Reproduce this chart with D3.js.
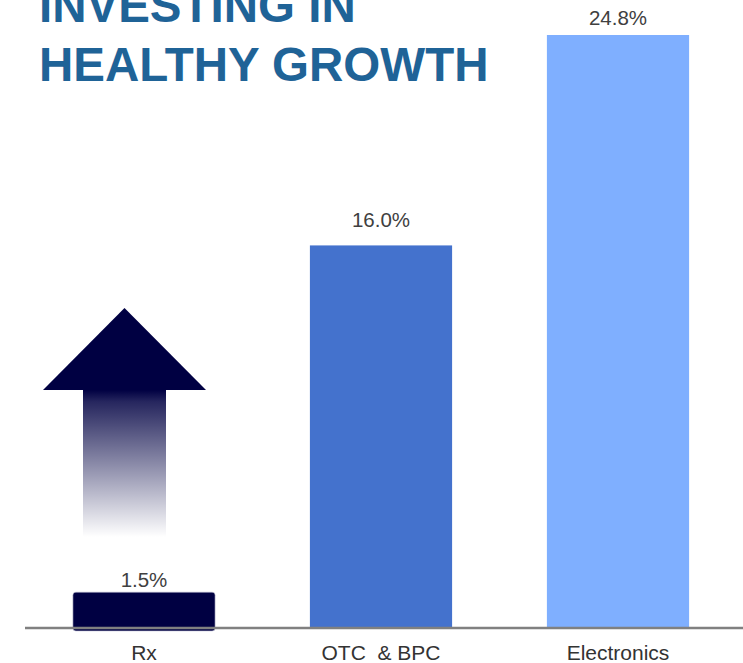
<!DOCTYPE html>
<html>
<head>
<meta charset="utf-8">
<script src="https://cdn.jsdelivr.net/npm/d3@7"></script>
<style>
  html, body { margin: 0; padding: 0; background: #ffffff; }
  svg { display: block; }
</style>
</head>
<body>
<svg id="chart" width="743" height="663"></svg>
<script>
// Growth by business segment (%)
const categories = ["Rx", "OTC  & BPC", "Electronics"];
const values = [1.5, 16.0, 24.8];
const valueLabels = ["1.5%", "16.0%", "24.8%"];
const barColors = ["#000042", "#4472cd", "#7fafff"];
const titleLines = ["INVESTING IN", "HEALTHY GROWTH"];

const width = 743, height = 663;
const baseY = 628;
const svg = d3.select("#chart");

const x = d3.scaleBand()
  .domain(categories)
  .range([25.5, 736.5])
  .paddingInner(0.4)
  .paddingOuter(0.2);

const y = d3.scaleLinear()
  .domain([0, 24.8])
  .range([baseY, 35]);

// Gradient for the upward arrow shaft
const defs = svg.append("defs");
const grad = defs.append("linearGradient")
  .attr("id", "shaftFade")
  .attr("x1", 0).attr("y1", 0).attr("x2", 0).attr("y2", 1);
grad.append("stop").attr("offset", "0%").attr("stop-color", "#000042").attr("stop-opacity", 1);
grad.append("stop").attr("offset", "8%").attr("stop-color", "#000042").attr("stop-opacity", 0.85);
grad.append("stop").attr("offset", "100%").attr("stop-color", "#000042").attr("stop-opacity", 0);

// Title
const title = svg.append("g").attr("class", "title");
title.selectAll("text")
  .data(titleLines)
  .join("text")
  .attr("x", 39)
  .attr("y", (d, i) => 22 + i * 59)
  .attr("font-family", "'Liberation Sans', Arial, sans-serif")
  .attr("font-weight", "bold")
  .attr("font-size", 47.5)
  .attr("fill", "#1f6397")
  .text(d => d);

// Upward arrow beside the Rx bar
const arrow = svg.append("g").attr("class", "arrow");
const ax = 124.5;
arrow.append("rect")
  .attr("x", 83).attr("y", 390)
  .attr("width", 83).attr("height", 147)
  .attr("fill", "url(#shaftFade)");
arrow.append("path")
  .attr("d", `M${ax},308 L206,390 L43,390 Z`)
  .attr("fill", "#000042");

// Bars
svg.append("g").selectAll("rect")
  .data(categories)
  .join("rect")
  .attr("x", d => x(d))
  .attr("y", (d, i) => y(values[i]))
  .attr("width", x.bandwidth())
  .attr("height", (d, i) => baseY - y(values[i]) + (i === 0 ? 3 : 0))
  .attr("rx", (d, i) => i === 0 ? 3 : 0)
  .attr("fill", (d, i) => barColors[i])
  .attr("stroke", (d, i) => i === 0 ? "#c8c8d8" : "none")
  .attr("stroke-width", 0.6);

// Value labels
const labelGap = [5, 18, 10];
svg.append("g").selectAll("text")
  .data(categories)
  .join("text")
  .attr("x", d => x(d) + x.bandwidth() / 2)
  .attr("y", (d, i) => y(values[i]) - labelGap[i])
  .attr("text-anchor", "middle")
  .attr("font-family", "'Liberation Sans', Arial, sans-serif")
  .attr("font-size", 20.5)
  .attr("fill", "#404040")
  .text((d, i) => valueLabels[i]);

// Baseline axis
const axis = svg.append("g")
  .attr("transform", `translate(0,${baseY})`)
  .call(d3.axisBottom(x).tickSize(0).tickPadding(17));
axis.select(".domain").remove();
axis.append("line")
  .attr("x1", 25).attr("x2", width)
  .attr("y1", 0).attr("y2", 0)
  .attr("stroke", "#808080")
  .attr("stroke-width", 2.5);
axis.selectAll(".tick text")
  .attr("font-family", "'Liberation Sans', Arial, sans-serif")
  .attr("font-size", 21)
  .attr("fill", "#333333")
  .style("white-space", "pre")
  .attr("xml:space", "preserve");
</script>
</body>
</html>
